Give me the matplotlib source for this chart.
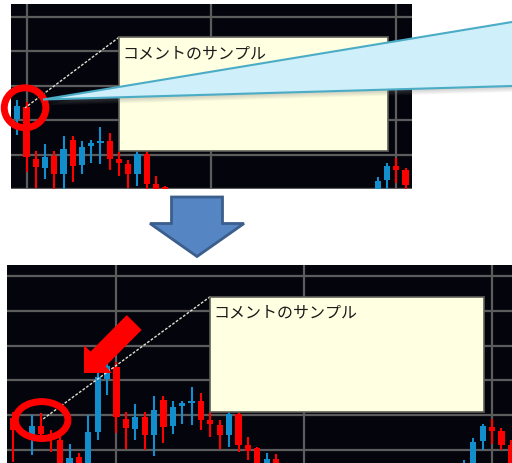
import numpy as np
import matplotlib.pyplot as plt
from matplotlib.patches import Rectangle, Ellipse, Polygon, FancyArrow

plt.rcParams['font.family'] = ['Noto Sans CJK JP', 'DejaVu Sans']

# candles: bar number, open, high, low, close (same chart in both screenshots)
bar = [-10, -8, -7, -6, -5, -4, -3, -2, -1, 0, 1, 2, 3, 4, 5, 6, 7, 8,
       9, 10, 11, 12, 13, 14, 15, 16, 17, 18, 38, 39, 40, 41, 42, 43]
opens = [109.2, 103.7, 106.9, 104.7, 102.9, 93.0, 98.0, 95.0, 105.3, 120.4,
         123.9, 108.8, 106.0, 109.5, 104.3, 114.3, 107.0, 112.5, 113.5, 114.0,
         108.7, 107.2, 104.3, 110.2, 101.4, 100.6, 93.0, 97.3, 92.0, 96.0,
         102.6, 106.6, 105.4, 101.4]
highs = [111.0, 110.1, 110.6, 105.7, 105.7, 101.7, 99.1, 110.1, 122.2, 126.0,
         125.4, 111.0, 113.2, 111.0, 115.5, 115.5, 114.0, 114.1, 118.0, 116.4,
         110.8, 108.5, 111.0, 111.6, 103.8, 100.8, 99.2, 98.8, 97.0, 103.5,
         107.5, 109.0, 106.2, 103.0]
lows = [96.6, 98.6, 102.9, 99.4, 89.0, 90.0, 91.0, 93.0, 102.9, 115.8,
        104.8, 100.2, 102.8, 100.0, 98.2, 102.0, 104.5, 107.5, 107.2, 105.6,
        103.7, 100.2, 101.0, 99.5, 97.1, 93.0, 91.0, 92.0, 90.0, 94.0,
        100.0, 101.7, 100.0, 93.0]
closes = [105.7, 106.9, 104.6, 104.2, 91.4, 97.7, 94.0, 105.2, 121.1, 124.2,
          109.4, 106.4, 109.4, 104.4, 111.5, 106.7, 112.3, 113.4, 114.0, 108.7,
          107.6, 104.4, 110.2, 101.5, 99.8, 95.0, 97.4, 94.0, 95.5, 102.4,
          106.8, 105.4, 101.3, 95.0]

comment = 'コメントのサンプル'
box_bars = [11.0, 40.15]        # left / right edge of the comment box
box_prices = [111.0, 144.1]     # bottom / top edge of the comment box
# end of the comment line: before (top) and after (bottom) scrolling
anchor_bar = [0.84, -6.97]
anchor_price = [123.6, 108.6]

UP = '#118ECB'
DOWN = '#FF0000'
BG = '#04040D'

fig = plt.figure(figsize=(5.12, 4.63), dpi=100)


def draw_chart(ax, n, ring_w, ring_h):
    o, h, l, c = map(np.array, (opens, highs, lows, closes))
    cols = np.where(c >= o, UP, DOWN)
    ax.set_facecolor(BG)
    ax.vlines(bar, l, h, colors=cols, lw=1.5, zorder=2)
    ax.bar(bar, np.maximum(np.abs(c - o), 0.5), bottom=np.minimum(o, c),
           width=0.66, color=cols, zorder=3)
    ax.set_xticks([1, 21, 41])
    ax.set_yticks(range(100, 151, 10))
    ax.set_axisbelow(True)
    ax.grid(color='#5C5C5C', lw=1.6)
    ax.tick_params(length=0, labelbottom=False, labelleft=False)
    for s in ax.spines.values():
        s.set_visible(False)

    # comment line, box and text
    ax.plot([box_bars[0], anchor_bar[n]], [box_prices[1], anchor_price[n]],
            color='#E0E0D0', lw=1.0, ls=(0, (2, 1.2)), zorder=4)
    ax.add_patch(Rectangle((box_bars[0], box_prices[0]),
                           box_bars[1] - box_bars[0], box_prices[1] - box_prices[0],
                           fc='#FFFFE1', ec='#606058', lw=1.2, zorder=5))
    ax.annotate(comment, xy=(box_bars[0], box_prices[1]), xytext=(2.2, -5.5),
                textcoords='offset points', ha='left', va='top',
                fontsize=11.5, color='#1A1A1A', zorder=6)
    ax.add_patch(Ellipse((anchor_bar[n], anchor_price[n]), ring_w, ring_h,
                         fill=False, ec='#FF0000', lw=5, clip_on=False, zorder=7))


top = fig.add_axes([11 / 512, 274 / 463, 401 / 512, 185 / 463])
top.set_xlim(-0.68, 42.7)
top.set_ylim(100.14, 153.77)
draw_chart(top, 0, 4.5, 11.6)

bot = fig.add_axes([6.7 / 512, 0, 505.3 / 512, 198 / 463])
bot.set_xlim(-10.69, 43.12)
bot.set_ylim(96.26, 153.16)
draw_chart(bot, 1, 5.6, 10.6)

# overlay in pixel units for the callout and arrows
ov = fig.add_axes([0, 0, 1, 1], zorder=10)
ov.set_xlim(0, 512)
ov.set_ylim(463, 0)
ov.axis('off')

tip = np.array([43.0, 99.5])
far_top = tip + (np.array([512, 22.0]) - tip) * 1.1
far_bot = tip + (np.array([512, 86.0]) - tip) * 1.1
for k in range(1, 7):
    ov.add_patch(Polygon([tip + (0, k), far_top + (0, k), far_bot + (0, k)],
                         fc='#808080', ec='none', alpha=0.07))
ov.add_patch(Polygon([tip, far_top, far_bot], fc='#CFEFFA', ec='#4BACC6', lw=1.5))

ov.add_patch(FancyArrow(197, 197, 0, 59.5, width=51, head_width=94, head_length=33,
                        length_includes_head=True, fc='#5585C2', ec='#3B5E8C', lw=2))
ov.add_patch(FancyArrow(134.2, 322.5, -50.2, 50.5, width=21, head_width=39.6,
                        head_length=19.8, length_includes_head=True,
                        fc='#FF0000', ec='none'))

fig.savefig('out.png', dpi=100)
